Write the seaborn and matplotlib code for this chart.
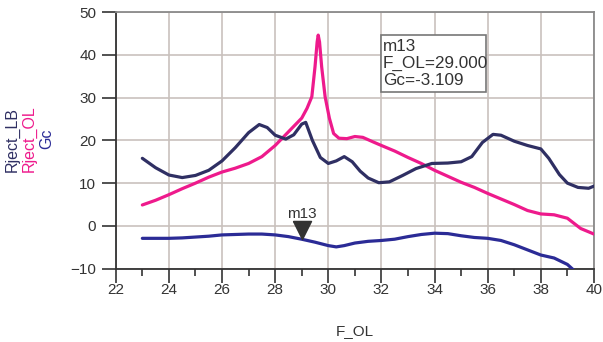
import numpy as np
import pandas as pd
import matplotlib
matplotlib.use("Agg")
import matplotlib.pyplot as plt
import seaborn as sns
from matplotlib.patches import Rectangle

# ---------------- data ----------------
lb_x = [23.0, 23.5, 24.0, 24.5, 25.0, 25.5, 26.0, 26.5, 27.0, 27.4, 27.7, 28.0, 28.4, 28.7,
        29.0, 29.15, 29.4, 29.7, 30.0, 30.3, 30.6, 30.9, 31.2, 31.5, 31.9, 32.3, 32.8, 33.3,
        33.9, 34.5, 35.0, 35.4, 35.8, 36.2, 36.5, 37.0, 37.5, 38.0, 38.3, 38.7, 39.0, 39.4,
        39.8, 40.0]
lb_y = [15.8, 13.6, 11.9, 11.3, 11.8, 13.0, 15.2, 18.3, 21.8, 23.7, 23.0, 21.2, 20.3, 21.3,
        23.8, 24.2, 20.0, 16.0, 14.6, 15.2, 16.2, 15.0, 12.8, 11.2, 10.1, 10.3, 11.8, 13.4,
        14.6, 14.7, 15.0, 16.2, 19.5, 21.4, 21.2, 19.8, 18.8, 18.0, 15.8, 12.0, 10.0, 9.0,
        8.8, 9.3]

ol_x = [23.0, 23.5, 24.0, 24.5, 25.0, 25.5, 26.0, 26.5, 27.0, 27.5, 28.0, 28.5, 29.0, 29.2,
        29.38, 29.5, 29.58, 29.62, 29.67, 29.75, 29.88, 30.04, 30.2, 30.4, 30.7, 31.0, 31.3,
        31.7, 32.0, 32.5, 33.0, 33.5, 34.0, 34.5, 35.0, 35.5, 36.0, 36.5, 37.0, 37.5, 38.0,
        38.5, 39.0, 39.5, 40.0]
ol_y = [4.9, 6.0, 7.3, 8.7, 10.0, 11.4, 12.6, 13.5, 14.6, 16.2, 18.8, 22.0, 25.2, 27.5,
        30.2, 37.2, 43.0, 44.6, 43.0, 37.2, 30.2, 25.2, 21.6, 20.5, 20.4, 20.9, 20.7,
        19.6, 18.8, 17.5, 16.0, 14.6, 13.0, 11.6, 10.2, 9.0, 7.6, 6.3, 5.0, 3.6, 2.8,
        2.6, 1.8, -0.6, -1.9]

gc_x = [23.0, 23.5, 24.0, 24.5, 25.0, 25.5, 26.0, 26.5, 27.0, 27.5, 28.0, 28.5, 29.0, 29.5,
        30.0, 30.3, 30.6, 31.0, 31.5, 32.0, 32.5, 33.0, 33.5, 34.0, 34.5, 35.0, 35.5, 36.0,
        36.5, 37.0, 37.5, 38.0, 38.5, 39.0, 39.25]
gc_y = [-2.9, -2.9, -2.9, -2.8, -2.6, -2.4, -2.1, -2.0, -1.9, -1.9, -2.1, -2.5, -3.109, -3.8,
        -4.6, -4.9, -4.6, -4.0, -3.6, -3.4, -3.1, -2.5, -2.0, -1.7, -1.8, -2.3, -2.7, -2.9,
        -3.4, -4.4, -5.6, -6.8, -7.5, -9.0, -10.4]

marker_name = "m13"
marker_x = 29.0
marker_y = -3.109

x_ticks = [22, 24, 26, 28, 30, 32, 34, 36, 38, 40]
y_ticks = [-10, 0, 10, 20, 30, 40, 50]

c_lb = "#2f2f63"
c_ol = "#ee1a8c"
c_gc = "#2b2b96"

# ---------------- plot ----------------
sns.set_theme(style="white")
plt.rcParams["font.family"] = ["Liberation Sans", "DejaVu Sans"]

fig = plt.figure(figsize=(6.03, 3.42), dpi=100)
ax = fig.add_axes([0.192, 0.2143, 0.793, 0.7506])

df_lb = pd.DataFrame({"x": lb_x, "y": lb_y})
df_ol = pd.DataFrame({"x": ol_x, "y": ol_y})
df_gc = pd.DataFrame({"x": gc_x, "y": gc_y})

lw = 2.3
sns.lineplot(data=df_gc, x="x", y="y", ax=ax, color=c_gc, lw=lw, sort=False, zorder=3)
sns.lineplot(data=df_ol, x="x", y="y", ax=ax, color=c_ol, lw=lw, sort=False, zorder=3)
sns.lineplot(data=df_lb, x="x", y="y", ax=ax, color=c_lb, lw=lw, sort=False, zorder=3)

ax.set_xlim(22, 40)
ax.set_ylim(-10, 50)
ax.set_xticks(x_ticks)
ax.set_yticks(y_ticks)
ax.set_xticks(np.arange(23, 40, 2), minor=True)
ax.set_xlabel("")
ax.set_ylabel("")

grid_c = "#c9c1bd"
ax.grid(True, which="major", color=grid_c, lw=1.2, zorder=0)
ax.set_axisbelow(True)

for s in ["left", "bottom"]:
    ax.spines[s].set_color("#333333")
    ax.spines[s].set_linewidth(1.3)
for s in ["top", "right"]:
    ax.spines[s].set_color("#8a8a8a")
    ax.spines[s].set_linewidth(1.3)

ax.tick_params(axis="both", which="major", direction="out", length=10, width=1.2,
               color="#333333", labelsize=11, labelcolor="#333333", pad=4)
ax.tick_params(axis="x", which="minor", direction="out", length=5, width=1.2,
               color="#333333", bottom=True)
ax.tick_params(axis="x", which="major", length=10, pad=0.5)
ax.tick_params(axis="y", which="both", left=True)
ax.tick_params(axis="x", which="both", bottom=True)

# marker
tri = [(-0.5, 1.0), (0.5, 1.0), (0.0, 0.0), (-0.5, 1.0)]
ax.plot([marker_x], [marker_y], marker=tri, ms=26, color="#333333", mec="#333333",
        ls="none", zorder=5, clip_on=False)
ax.annotate(marker_name, xy=(marker_x, marker_y), xytext=(0, 18), textcoords="offset points",
            ha="center", va="center", fontsize=11, color="#333333", zorder=6)

# marker readout box
ax.add_patch(Rectangle((0.5547, 0.6884), 0.2195, 0.222, transform=ax.transAxes,
                       facecolor="white", edgecolor="#777777", lw=1.2, zorder=4))
box_lines = [marker_name, f"F_OL={marker_x:.3f}", f"Gc={marker_y:.3f}"]
for i, t in enumerate(box_lines):
    ax.text(0.559, 0.8637 - i * 0.0643, t, transform=ax.transAxes, ha="left", va="center",
            fontsize=12.3, color="#333333", zorder=5)

# axis labels
fig.text(355 / 603, 1 - 331 / 342, "F_OL", ha="center", va="center", fontsize=11,
         color="#333333")
for xp, t, c in [(12.3, "Rject_LB", c_lb), (29.0, "Rject_OL", c_ol), (47.0, "Gc", c_gc)]:
    fig.text(xp / 603, 1 - 139 / 342, t, rotation=90, ha="center", va="center",
             fontsize=11.5, color=c)

fig.savefig("out.png", dpi=100)
